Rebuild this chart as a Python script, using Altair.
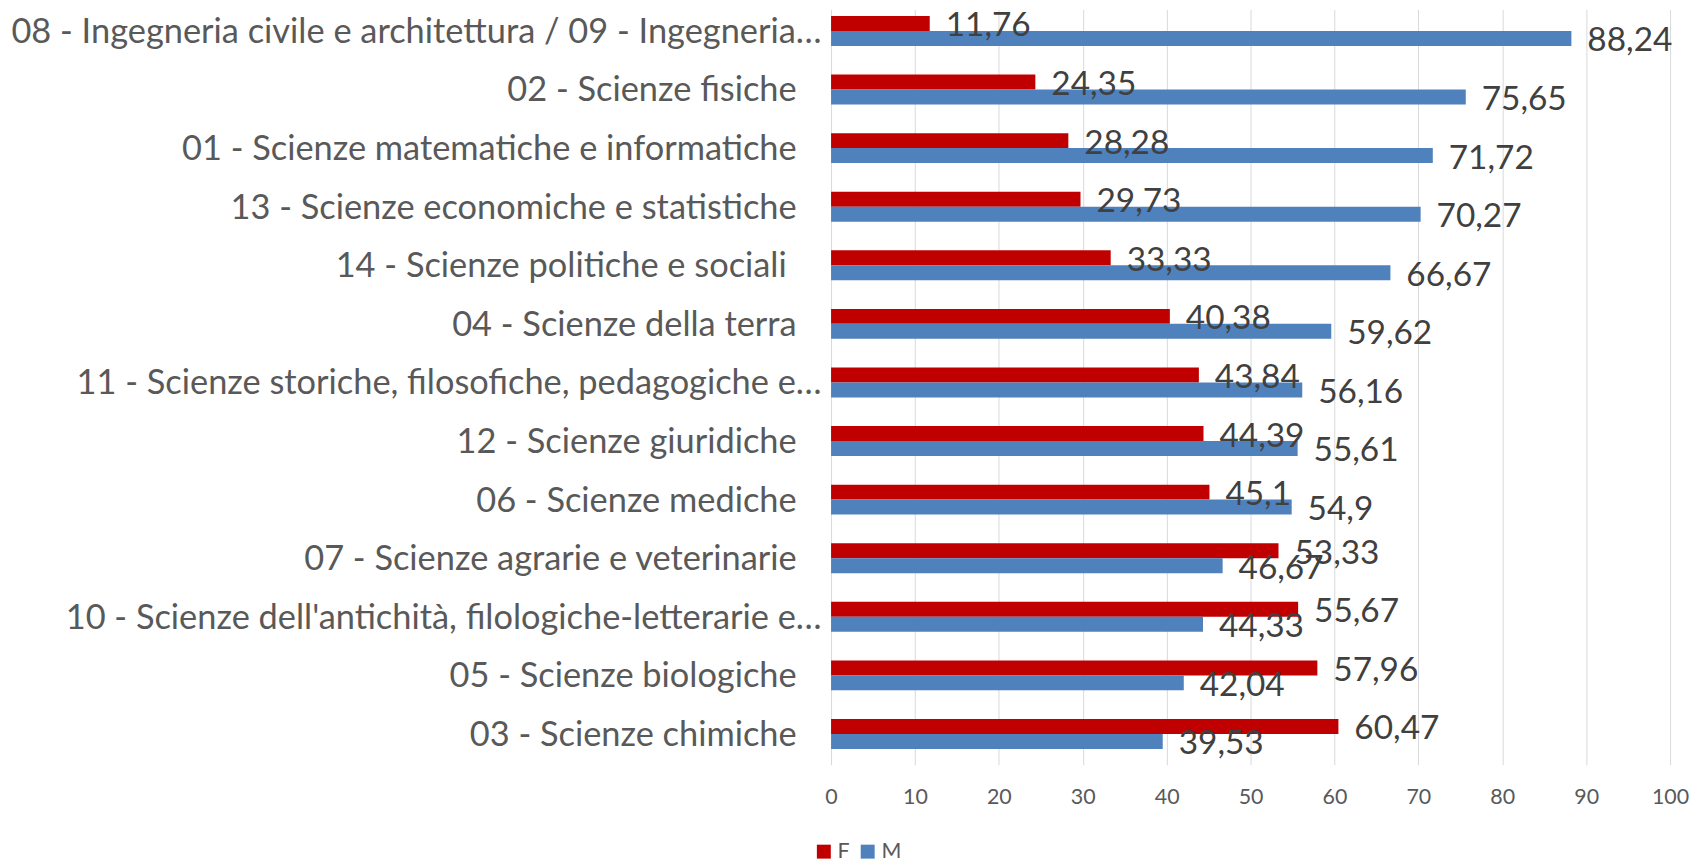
import altair as alt
import pandas as pd

categories = [
    "08 - Ingegneria civile e architettura / 09 - Ingegneria…",
    "02 - Scienze fisiche",
    "01 - Scienze matematiche e informatiche",
    "13 - Scienze economiche e statistiche",
    "14 - Scienze politiche e sociali",
    "04 - Scienze della terra",
    "11 - Scienze storiche, filosofiche, pedagogiche e…",
    "12 - Scienze giuridiche",
    "06 - Scienze mediche",
    "07 - Scienze agrarie e veterinarie",
    "10 - Scienze dell'antichità, filologiche-letterarie e…",
    "05 - Scienze biologiche",
    "03 - Scienze chimiche",
]
f_values = [11.76, 24.35, 28.28, 29.73, 33.33, 40.38, 43.84, 44.39, 45.1, 53.33, 55.67, 57.96, 60.47]
m_values = [88.24, 75.65, 71.72, 70.27, 66.67, 59.62, 56.16, 55.61, 54.9, 46.67, 44.33, 42.04, 39.53]
series = ["F", "M"]
colors = ["#C00000", "#4F81BD"]
x_ticks = list(range(0, 101, 10))

rows = []
for c, f, m in zip(categories, f_values, m_values):
    rows.append({"category": c, "series": "F", "value": f})
    rows.append({"category": c, "series": "M", "value": m})
df = pd.DataFrame(rows)

y_enc = alt.Y(
    "category:N",
    sort=categories,
    scale=alt.Scale(paddingInner=0.4897, paddingOuter=0.191, align=0.289),
    axis=alt.Axis(
        title=None, domain=False, ticks=False, tickSize=0, grid=False,
        labelFont="Lato", labelFontSize=34.5, labelColor="#595959",
        labelLimit=1000, labelOffset=2,
        labelPadding={
            "condition": [
                {"test": "indexof(datum.label, '…') >= 0", "value": 10},
                {"test": "indexof(datum.label, '14 - ') == 0", "value": 45},
            ],
            "value": 35,
        },
    ),
)
x_enc = alt.X(
    "value:Q",
    scale=alt.Scale(domain=[0, 100], nice=False),
    axis=alt.Axis(
        title=None, values=x_ticks, grid=True, gridColor="#d9d9d9", gridWidth=1,
        domain=False, ticks=False, tickSize=0, labelPadding=22, labelFlush=False,
        labelFont="Lato", labelFontSize=21.5, labelColor="#595959",
    ),
)
yoff = alt.YOffset("series:N", sort=series, scale=alt.Scale(paddingInner=0, paddingOuter=0))

base = alt.Chart(df).encode(y=y_enc, x=x_enc, yOffset=yoff)

bars = base.mark_bar().encode(
    color=alt.Color(
        "series:N",
        scale=alt.Scale(domain=series, range=colors),
        legend=alt.Legend(
            title=None, orient="none", legendX=-18, legendY=834, direction="horizontal",
            symbolType="square", symbolSize=196, symbolStrokeWidth=0, padding=0,
            labelFont="Lato", labelFontSize=21.5, labelColor="#595959",
            columnPadding=7, labelOffset=3,
        ),
    )
)

labels = base.mark_text(
    align="left", baseline="middle", dx=16, dy=3,
    font="Lato", fontSize=33.5, color="#404040",
).transform_calculate(
    label="replace(toString(datum.value), '.', ',')"
).encode(text="label:N")

chart = alt.layer(bars, labels).properties(
    width=842, height=758,
    autosize=alt.AutoSizeParams(type="none"),
    padding={"left": 826, "top": 0, "right": 20, "bottom": 98},
).configure_view(stroke=None)

chart.save("out.html", embed_options={"renderer": "svg", "actions": False})
